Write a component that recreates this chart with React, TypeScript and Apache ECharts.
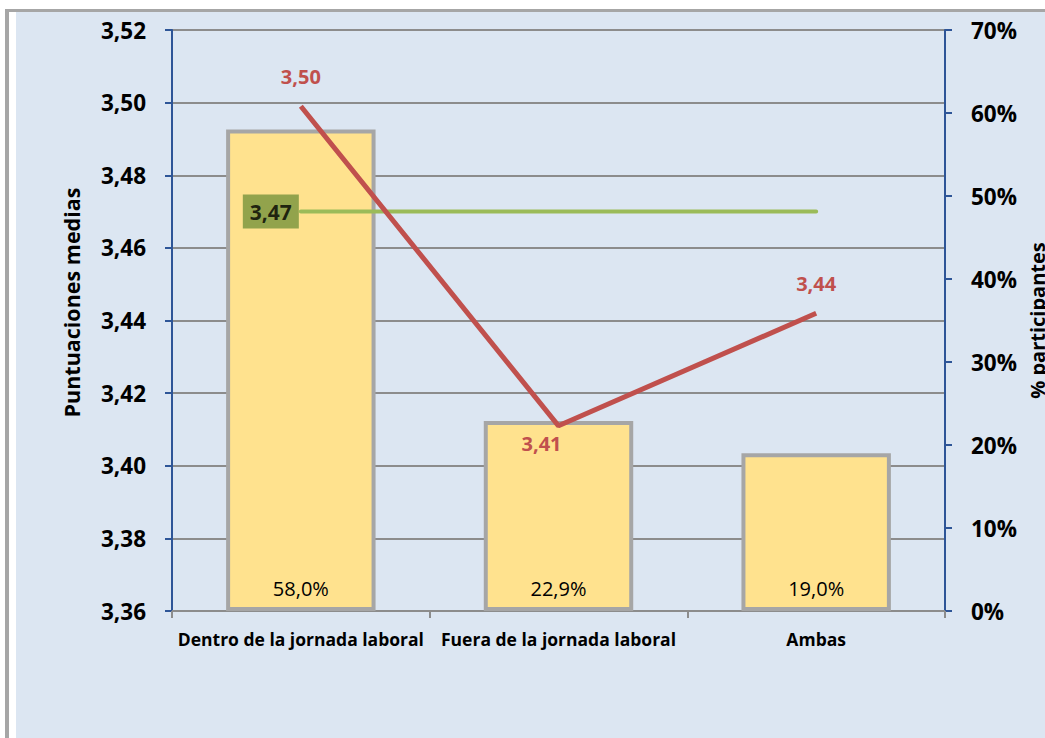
import React, { useEffect, useRef } from "react";
import * as echarts from "echarts";

const categories = ["Dentro de la jornada laboral", "Fuera de la jornada laboral", "Ambas"];
const participantsPct = [58.0, 22.9, 19.0];
const meanScores = [3.499, 3.411, 3.442];
const overallMean = [3.47, 3.47, 3.47];
const leftTicks = { min: 3.36, max: 3.52, interval: 0.02 };
const rightTicks = { min: 0, max: 70, interval: 10 };

const FONT = "Open Sans";
const comma = (v: number, d: number) => v.toFixed(d).replace(".", ",");

export default function App() {
  const ref = useRef<HTMLDivElement>(null);
  useEffect(() => {
    if (!ref.current) return;
    const chart = echarts.init(ref.current, undefined, { renderer: "svg" });
    chart.setOption({
      animation: false,
      backgroundColor: "#ffffff",
      textStyle: { fontFamily: FONT },
      graphic: [
        { type: "rect", z: -10, shape: { x: 16, y: 12, width: 1045, height: 738 }, style: { fill: "#dce6f2" } },
        { type: "rect", z: -9, shape: { x: 5, y: 9, width: 1045, height: 3 }, style: { fill: "#a6a6a6" } },
        { type: "rect", z: -9, shape: { x: 5, y: 9, width: 4, height: 738 }, style: { fill: "#a6a6a6" } },
      ],
      grid: { left: 172, right: 100, top: 30, bottom: 127, outerBoundsMode: "none", containLabel: false },
      xAxis: {
        type: "category",
        data: categories,
        axisLine: { lineStyle: { color: "#8c8c8c", width: 2 } },
        axisTick: { show: true, alignWithLabel: false, length: 7, lineStyle: { color: "#8c8c8c", width: 2 } },
        axisLabel: {
          color: "#000",
          fontWeight: "bold",
          fontSize: 17.5,
          margin: 19,
          fontFamily: FONT,
          interval: 0,
          hideOverlap: false,
        },
      },
      yAxis: [
        {
          type: "value",
          min: leftTicks.min,
          max: leftTicks.max,
          interval: leftTicks.interval,
          name: "Puntuaciones medias",
          nameLocation: "middle",
          nameRotate: 90,
          nameGap: 90,
          nameTextStyle: { color: "#000", fontWeight: "bold", fontSize: 21.5, fontFamily: FONT, padding: [0, 0, 0, 36] },
          axisLine: { show: true, lineStyle: { color: "#2e5597", width: 2 } },
          axisTick: { show: true, length: 7, lineStyle: { color: "#2e5597", width: 2 } },
          axisLabel: { color: "#000", fontWeight: "bold", fontSize: 22.5, margin: 26, fontFamily: FONT, formatter: (v: number) => comma(v, 2) },
          splitLine: { show: true, lineStyle: { color: "#8c8c8c", width: 2 } },
        },
        {
          type: "value",
          min: rightTicks.min,
          max: rightTicks.max,
          interval: rightTicks.interval,
          position: "right",
          name: "% participantes",
          nameLocation: "middle",
          nameRotate: 90,
          nameGap: 74,
          nameTextStyle: { color: "#000", fontWeight: "bold", fontSize: 20, fontFamily: FONT },
          axisLine: { show: true, lineStyle: { color: "#2e5597", width: 2 } },
          axisTick: { show: true, length: 7, lineStyle: { color: "#2e5597", width: 2 } },
          axisLabel: { color: "#000", fontWeight: "bold", fontSize: 22.5, margin: 26, fontFamily: FONT, formatter: (v: number) => v + "%" },
          splitLine: { show: false },
        },
      ],
      series: [
        {
          type: "bar",
          yAxisIndex: 1,
          data: participantsPct,
          barWidth: "58%",
          itemStyle: { color: "#ffe28e", borderColor: "#a6a6a6", borderWidth: 4 },
          label: {
            show: true,
            position: "insideBottom",
            distance: 13,
            color: "#000",
            fontSize: 20,
            fontFamily: FONT,
            formatter: (p: any) => comma(p.value, 1) + "%",
          },
          z: 2,
        },
        {
          type: "line",
          yAxisIndex: 0,
          data: overallMean,
          symbol: "none",
          lineStyle: { color: "#9bbb59", width: 4, cap: "round" },
          label: { show: false },
          z: 3,
        },
        {
          type: "scatter",
          yAxisIndex: 0,
          data: [overallMean[0]],
          symbolSize: 0,
          label: {
            show: true,
            position: "left",
            distance: 2,
            backgroundColor: "#77933c",
            padding: [7, 7, 6, 7],
            color: "#000",
            fontWeight: "bold",
            fontSize: 21,
            fontFamily: FONT,
            formatter: (p: any) => comma(p.value, 2),
          },
          z: 4,
        },
        {
          type: "line",
          yAxisIndex: 0,
          data: meanScores.map((v, i) => ({
            value: v,
            label:
              i === 1
                ? { position: "bottom", distance: 8, offset: [-17, 0] }
                : { position: "top", distance: 20 },
          })),
          symbol: "circle",
          symbolSize: 0,
          showSymbol: true,
          itemStyle: { color: "#c0504d" },
          lineStyle: { color: "#c0504d", width: 5 },
          label: {
            show: true,
            color: "#c0504d",
            fontWeight: "bold",
            fontSize: 20,
            fontFamily: FONT,
            formatter: (p: any) => comma(p.value, 2),
          },
          z: 5,
        },
      ],
    });
    return () => chart.dispose();
  }, []);
  return <div ref={ref} style={{ position: "fixed", left: 0, top: 0, width: 1045, height: 738 }} />;
}
